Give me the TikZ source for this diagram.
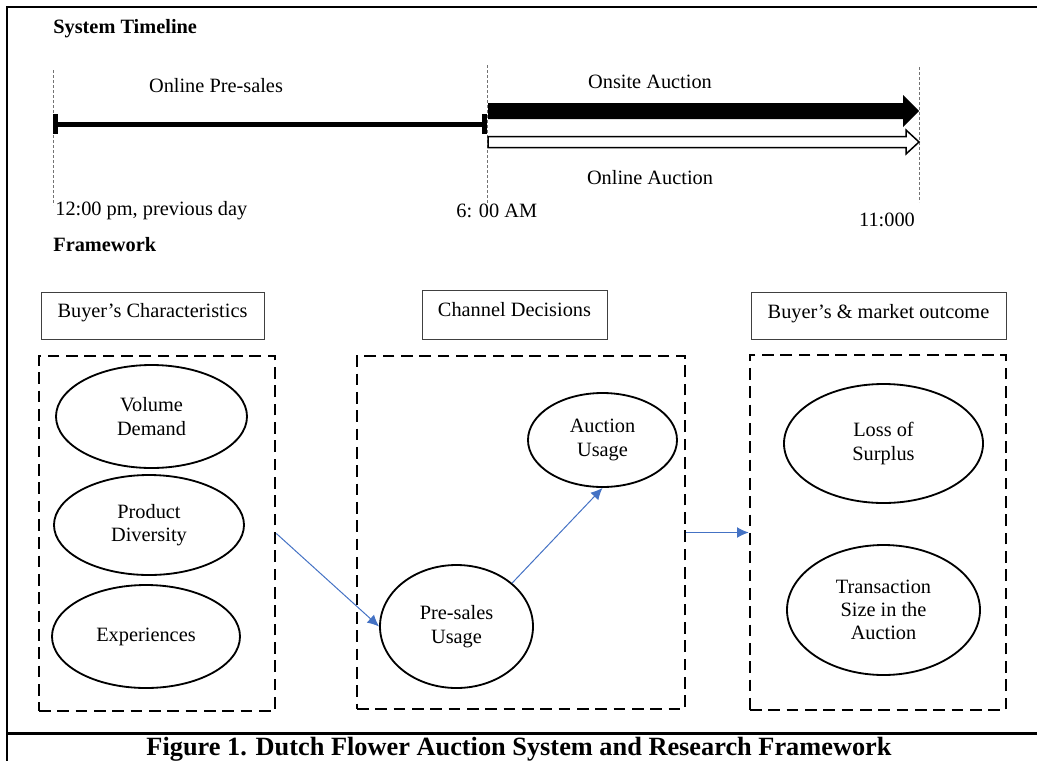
\documentclass[tikz,border=0pt]{standalone}
\usepackage{fontspec}
\setmainfont{Liberation Serif}
\usepackage{xcolor}
\usetikzlibrary{positioning,shapes.geometric,arrows.meta}
\definecolor{linkblue}{HTML}{4472C4}
\newcommand{\pxl}{0.6pt}

\begin{document}
\begin{tikzpicture}[
        x=\pxl, y=-\pxl,
        every node/.style = {font=\fontsize{12.2}{14}\selectfont, inner sep=0pt},
        head/.style  = {anchor=west, font=\fontsize{12.2}{14}\selectfont\bfseries},
        guide/.style = {draw=black!55, line width=0.6pt, dash pattern=on 1.8pt off 1.2pt},
        title/.style = {draw=black!75, line width=0.6pt, text depth=6pt},
        group/.style = {draw, line width=1.6pt, dash pattern=on 7pt off 4pt},
        var/.style   = {ellipse, draw, line width=1.1pt, align=center},
        link/.style  = {draw=linkblue, line width=0.6pt, -{Latex[length=7pt,width=6.5pt]}}
    ]
        \useasboundingbox (0,0) rectangle (1037,761);
        % frame and caption
        \draw[line width=1.2pt] (1037,7) -- (7,7) -- (7,761);
        \draw[line width=1.8pt] (7,733) -- (1037,733);
        \node[font=\fontsize{15.8}{18}\selectfont\bfseries] (cap) at (519,749)
            {Figure 1. Dutch Flower Auction System and Research Framework};

        % timeline
        \node[head] (tl) at (53,29) {System Timeline};
        \coordinate (t0) at (53,124);
        \coordinate (t1) at (487,124);
        \coordinate (t2) at (919,124);
        \draw[guide] (53,70) -- (53,205);
        \draw[guide] (487,65) -- (487,205);
        \draw[guide] (919,67) -- (919,202);
        \draw[line width=3pt, {Bar[width=12pt]}-{Bar[width=12pt]}] (t0) -- (t1);
        \fill (488,103) -- (903,103) -- (903,95) -- (919,111) -- (903,127) -- (903,119) -- (488,119) -- cycle;
        \draw[fill=white, line width=0.9pt] (488,136.5) -- (906,136.5) -- (906,130) -- (919,142)
            -- (906,154) -- (906,147.5) -- (488,147.5) -- cycle;
        \node (presales) at (216,86) {Online Pre-sales};
        \node (onsite)   at (650,82) {Onsite Auction};
        \node (online)   at (650,178) {Online Auction};
        \node[anchor=west] (day) at (55,211) {12:00 pm, previous day};
        \node[anchor=west] (six) at (456,211) {6: 00 AM};
        \node (eleven) at (887,220) {11:000};

        % framework
        \node[head] (fw) at (53,245) {Framework};
        \node[title, minimum width=223*\pxl, minimum height=47*\pxl] (bcT) at (152.5,315.5) {Buyer’s Characteristics};
        \node[title, minimum width=185*\pxl, minimum height=49*\pxl] (cdT) at (514.5,314.5) {Channel Decisions};
        \node[title, minimum width=255*\pxl, minimum height=47*\pxl] (moT) at (878.5,316) {Buyer’s \& market outcome};

        \node[group, minimum width=236*\pxl, minimum height=355*\pxl] (bc) at (157,533.5) {};
        \node[group, minimum width=328*\pxl, minimum height=353*\pxl] (cd) at (521,532.5) {};
        \node[group, minimum width=256*\pxl, minimum height=355*\pxl] (mo) at (878,532.5) {};

        \node[var, minimum width=191*\pxl, minimum height=103*\pxl] (vol)  at (151.5,416.5) {Volume\\Demand};
        \node[var, minimum width=190*\pxl, minimum height=100*\pxl] (div)  at (149,525) {Product\\Diversity};
        \node[var, minimum width=188*\pxl, minimum height=103*\pxl] (exp)  at (146,636.5) {Experiences};
        \node[var, minimum width=149*\pxl, minimum height=94*\pxl]  (auc)  at (602.5,440) {Auction\\Usage};
        \node[var, minimum width=153*\pxl, minimum height=123*\pxl] (pre)  at (456.5,626.5) {Pre-sales\\Usage};
        \node[var, minimum width=199*\pxl, minimum height=119*\pxl] (loss) at (883.5,443.5) {Loss of\\Surplus};
        \node[var, minimum width=193*\pxl, minimum height=130*\pxl] (size) at (883.5,610) {Transaction\\Size in the\\Auction};

        \draw[link] (bc.east) -- (pre.west);
        \draw[link] (pre.38) -- (auc.south);
        \draw[link] (cd.east) -- (mo.west);
    \end{tikzpicture}
\end{document}
